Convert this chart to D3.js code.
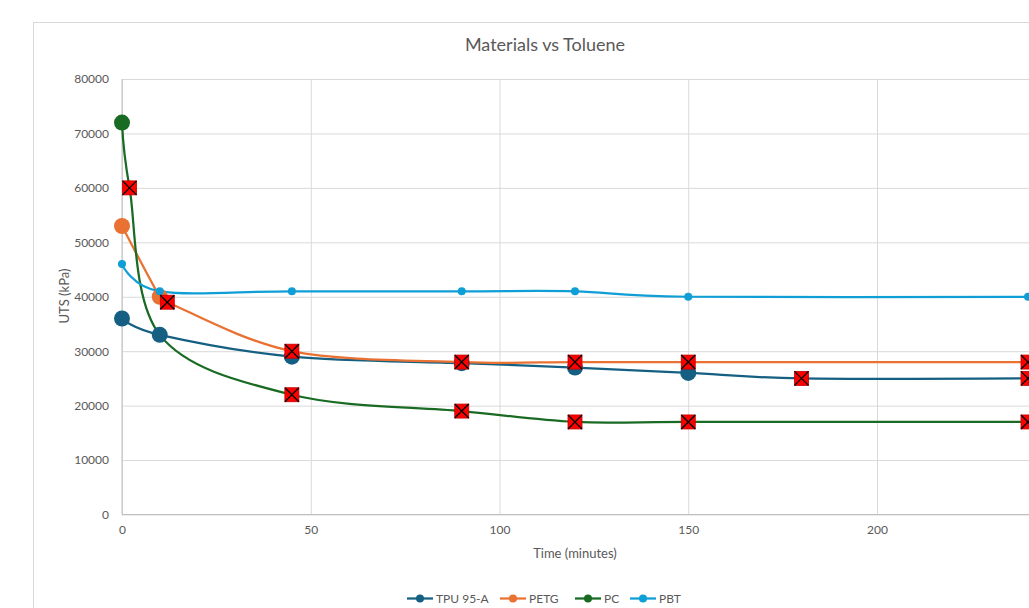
<!DOCTYPE html>
<html>
<head>
<meta charset="utf-8">
<script src="https://cdn.jsdelivr.net/npm/d3@7"></script>
<style>
  html, body { margin: 0; padding: 0; background: #fff; }
  svg { display: block; }
  text { font-family: "Lato", "Liberation Sans", sans-serif; fill: #595959; }
</style>
</head>
<body>
<svg id="chart" width="1029" height="608"></svg>
<script>
// ---- data ----
const chartTitle = "Materials vs Toluene";
const xTitle = "Time (minutes)";
const yTitle = "UTS (kPa)";
const xTicks = [0, 50, 100, 150, 200];
const yTicks = [0, 10000, 20000, 30000, 40000, 50000, 60000, 70000, 80000];

const seriesNames = ["TPU 95-A", "PETG", "PC", "PBT"];
// marker codes: o = circle, x = red failure square, - = none
const tpuTime   = [0, 10, 45, 90, 120, 150, 180, 240];
const tpuUTS    = [36000, 33000, 29000, 27800, 27000, 26000, 25000, 25000];
const tpuMark   = ["o", "o", "o", "o", "o", "o", "x", "x"];

const petgTime  = [0, 10, 12, 45, 90, 120, 150, 240];
const petgUTS   = [53000, 40000, 39000, 30000, 28000, 28000, 28000, 28000];
const petgMark  = ["o", "o", "x", "x", "x", "x", "x", "x"];

const pcTime    = [0, 2, 10, 45, 90, 120, 150, 240];
const pcUTS     = [72000, 60000, 33000, 22000, 19000, 17000, 17000, 17000];
const pcMark    = ["o", "x", "-", "x", "x", "x", "x", "x"];

const pbtTime   = [0, 10, 45, 90, 120, 150, 240];
const pbtUTS    = [46000, 41000, 41000, 41000, 41000, 40000, 40000];
const pbtMark   = ["o", "o", "o", "o", "o", "o", "o"];

// ---- styles ----
const colors = ["#156082", "#E97132", "#196B24", "#0F9ED5"];
const markerR = [8, 8, 8, 4];

const series = [
  {time: tpuTime, uts: tpuUTS, mark: tpuMark},
  {time: petgTime, uts: petgUTS, mark: petgMark},
  {time: pcTime, uts: pcUTS, mark: pcMark},
  {time: pbtTime, uts: pbtUTS, mark: pbtMark}
].map((s, i) => ({
  name: seriesNames[i], color: colors[i], r: markerR[i],
  points: s.time.map((t, j) => ({t: t, v: s.uts[j], m: s.mark[j]}))
}));

const svg = d3.select("#chart");
const plot = {left: 122, top: 79, right: 1028, bottom: 514.5};

// chart area border
svg.append("rect").attr("x", 33.5).attr("y", 22.5)
  .attr("width", 1030).attr("height", 640)
  .attr("fill", "#fff").attr("stroke", "#d9d9d9").attr("stroke-width", 1);

const x = d3.scaleLinear().domain([0, 240]).range([plot.left, plot.right]);
const y = d3.scaleLinear().domain([0, 80000]).range([plot.bottom, plot.top]);

// y gridlines + labels
const gy = svg.append("g").attr("transform", `translate(${plot.left},0)`)
  .call(d3.axisLeft(y).tickValues(yTicks).tickSize(-(plot.right - plot.left + 2)).tickPadding(13).tickFormat(d3.format("d")));
gy.select(".domain").remove();
gy.selectAll(".tick line").attr("stroke", "#d9d9d9").attr("stroke-width", 1);
gy.selectAll(".tick text").attr("font-size", 12).attr("fill", "#595959")
  .style("font-family", "Lato, 'Liberation Sans', sans-serif");

// x gridlines + labels
const gx = svg.append("g").attr("transform", `translate(0,${plot.bottom})`)
  .call(d3.axisBottom(x).tickValues(xTicks).tickSize(-(plot.bottom - plot.top)).tickPadding(11).tickFormat(d3.format("d")));
gx.select(".domain").remove();
gx.selectAll(".tick line").attr("stroke", "#d9d9d9").attr("stroke-width", 1);
gx.selectAll(".tick text").attr("font-size", 12).attr("fill", "#595959")
  .style("font-family", "Lato, 'Liberation Sans', sans-serif");

// axis lines
svg.append("line").attr("x1", plot.left).attr("x2", plot.right + 10)
  .attr("y1", plot.bottom).attr("y2", plot.bottom)
  .attr("stroke", "#bfbfbf").attr("stroke-width", 1);
svg.append("line").attr("x1", plot.left).attr("x2", plot.left)
  .attr("y1", plot.top).attr("y2", plot.bottom)
  .attr("stroke", "#bfbfbf").attr("stroke-width", 1);

// titles
svg.append("text").attr("x", 545).attr("y", 51).attr("text-anchor", "middle")
  .attr("font-size", 18).text(chartTitle);
svg.append("text").attr("x", 575).attr("y", 558).attr("text-anchor", "middle")
  .attr("font-size", 13).text(xTitle);
svg.append("text").attr("transform", "translate(69,296) rotate(-90)")
  .attr("text-anchor", "middle").attr("font-size", 13).text(yTitle);

// lines
const line = d3.line().x(d => x(d.t)).y(d => y(d.v)).curve(d3.curveCardinal.tension(0));
svg.append("g").selectAll("path").data(series).join("path")
  .attr("d", s => line(s.points))
  .attr("fill", "none").attr("stroke", s => s.color)
  .attr("stroke-width", 2.25).attr("stroke-linejoin", "round");

// circle markers
series.forEach(s => {
  svg.append("g").selectAll("circle").data(s.points.filter(p => p.m === "o")).join("circle")
    .attr("cx", p => x(p.t)).attr("cy", p => y(p.v)).attr("r", s.r)
    .attr("fill", s.color);
});

// failure square markers
const fails = [];
series.forEach(s => s.points.forEach(p => { if (p.m === "x") fails.push(p); }));
const fg = svg.append("g").selectAll("g").data(fails).join("g")
  .attr("transform", p => `translate(${x(p.t)},${y(p.v)})`);
const h = 7;
fg.append("rect").attr("x", -h).attr("y", -h).attr("width", 2 * h).attr("height", 2 * h)
  .attr("fill", "#ff0000").attr("stroke", "#c00000").attr("stroke-width", 0.8);
fg.append("path").attr("d", `M${-h},${-h}L${h},${h}M${h},${-h}L${-h},${h}`)
  .attr("stroke", "#000").attr("stroke-width", 1.3);

// legend
const legendX = [407, 500, 575, 630];
const lg = svg.append("g").selectAll("g").data(series).join("g")
  .attr("transform", (s, i) => `translate(${legendX[i]},598.5)`);
lg.append("line").attr("x1", 0).attr("x2", 26).attr("y1", 0).attr("y2", 0)
  .attr("stroke", s => s.color).attr("stroke-width", 2.25);
lg.append("circle").attr("cx", 13).attr("cy", 0).attr("r", 4).attr("fill", s => s.color);
lg.append("text").attr("x", 29).attr("y", 4).attr("font-size", 12).text(s => s.name);
</script>
</body>
</html>
